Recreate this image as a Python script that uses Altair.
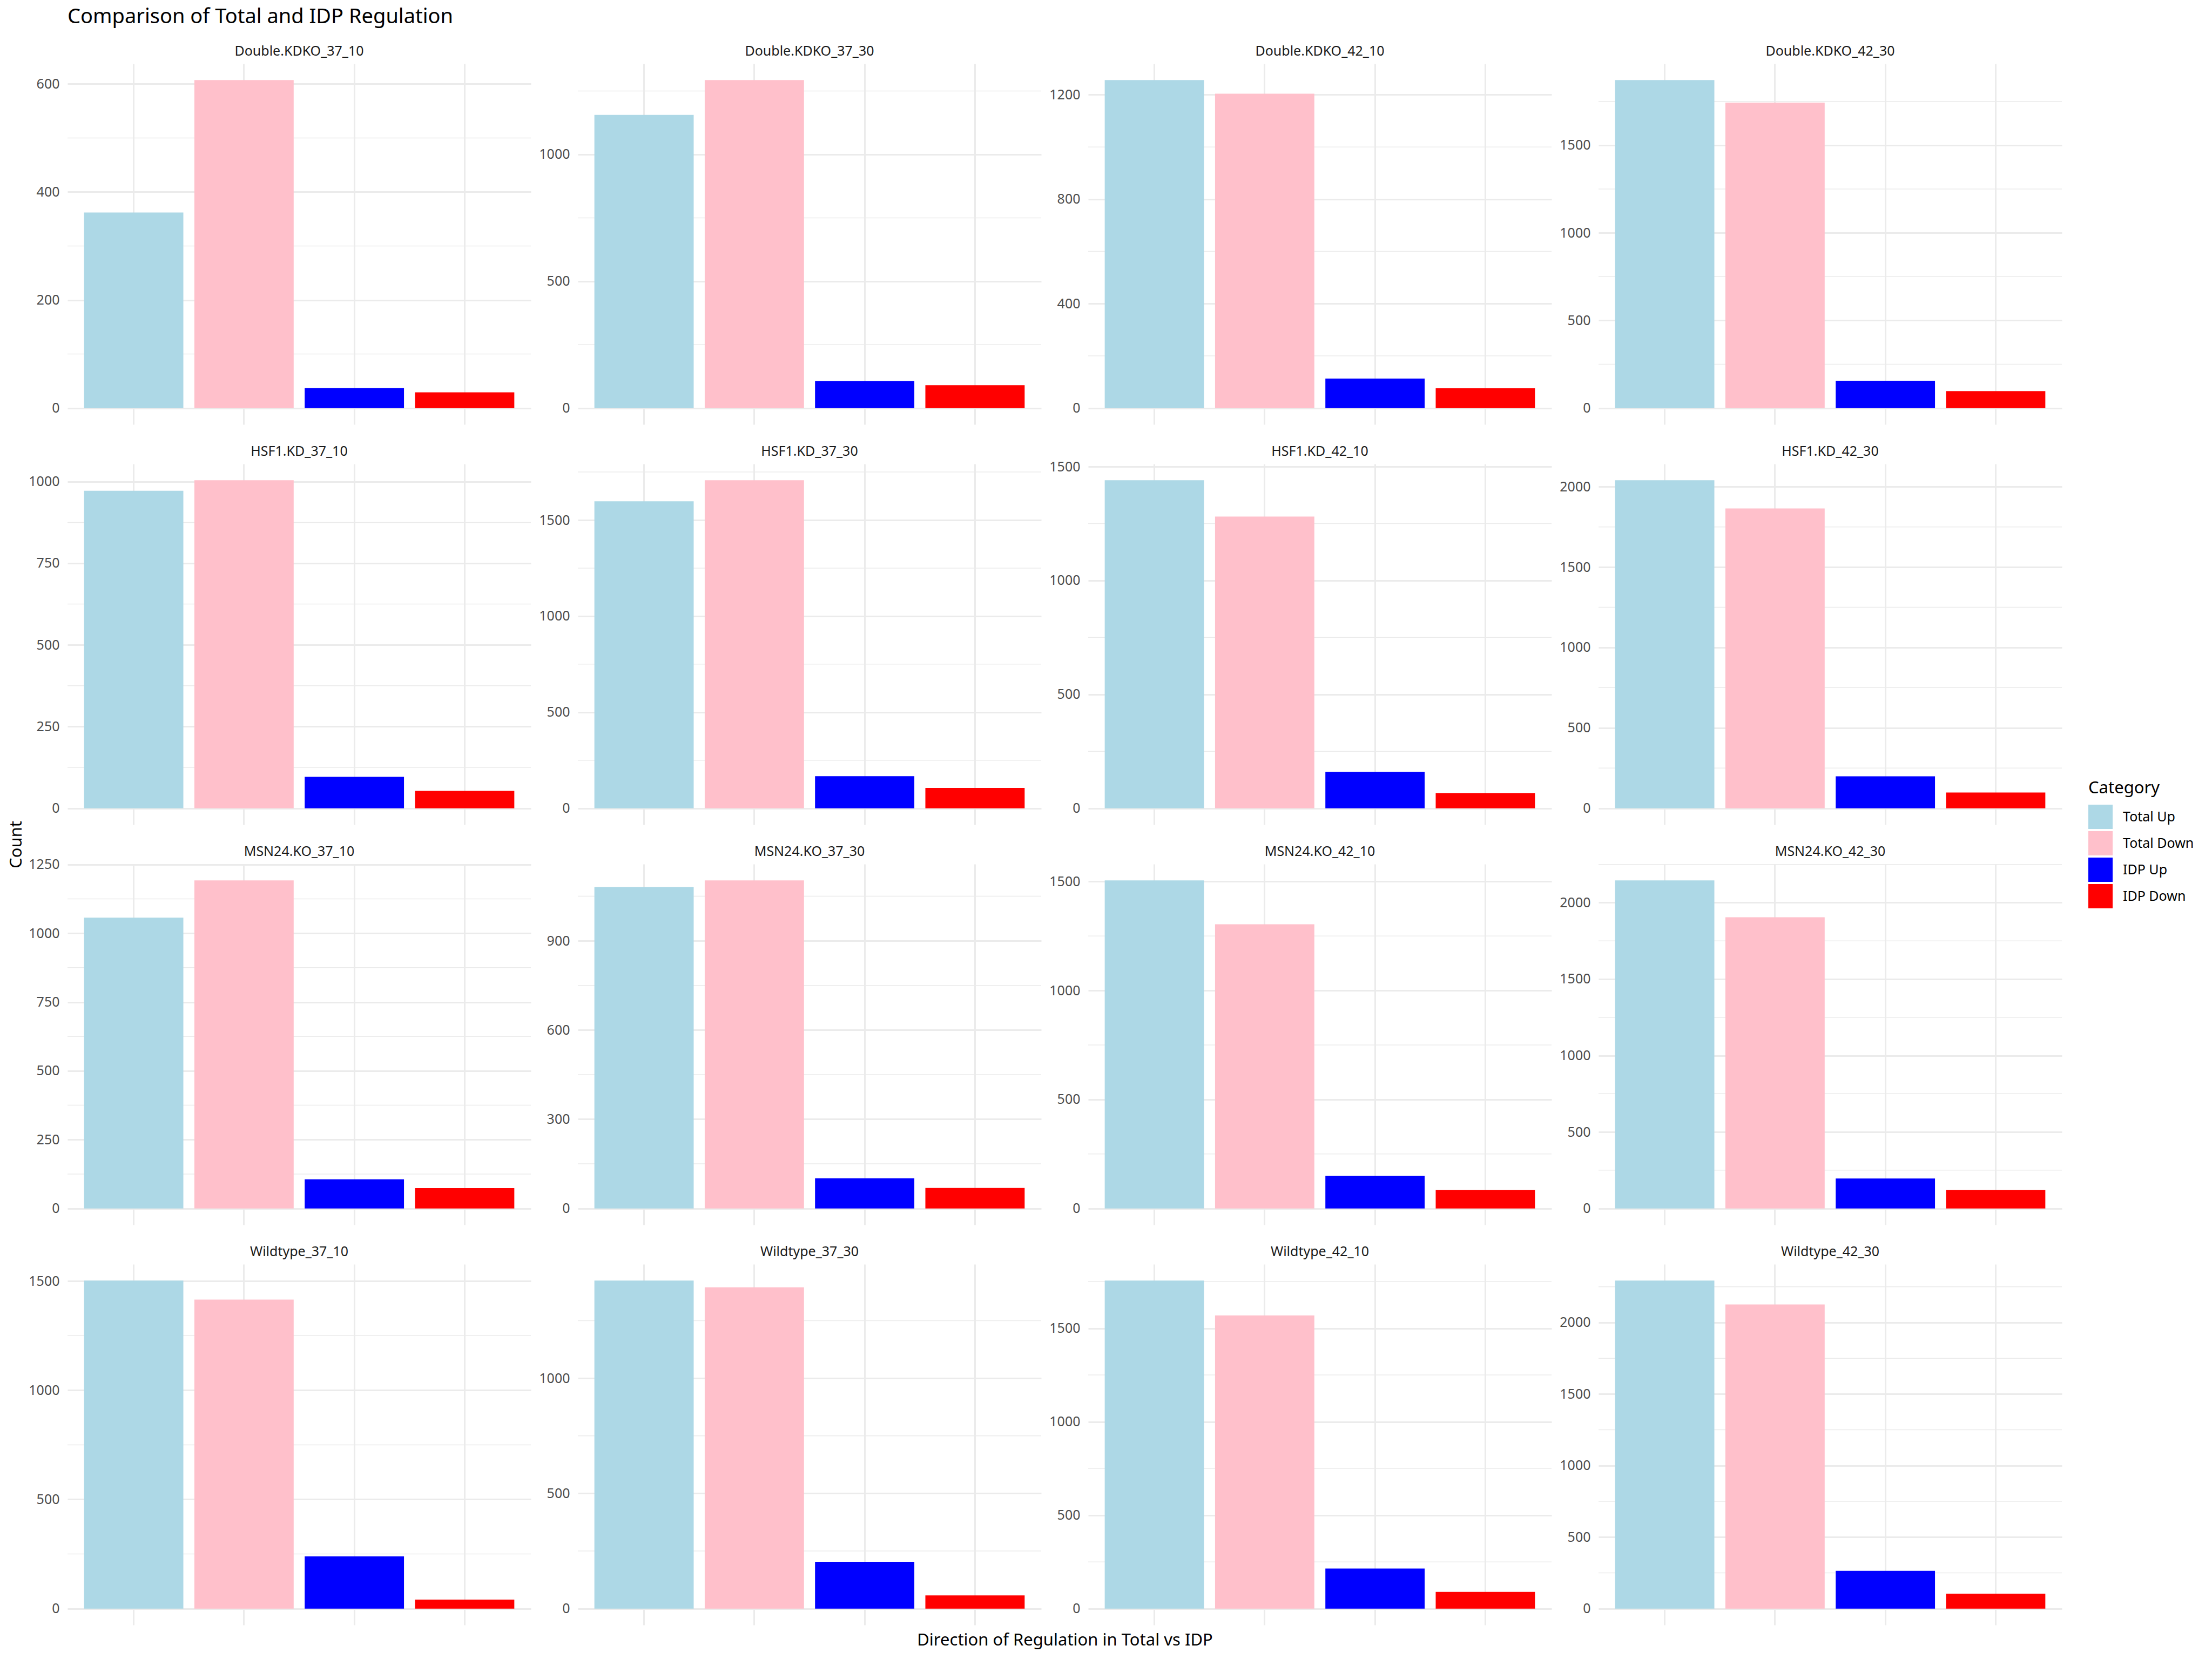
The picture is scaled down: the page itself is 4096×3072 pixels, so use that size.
import altair as alt
import pandas as pd

panels = ["Double.KDKO_37_10", "Double.KDKO_37_30", "Double.KDKO_42_10", "Double.KDKO_42_30",
          "HSF1.KD_37_10", "HSF1.KD_37_30", "HSF1.KD_42_10", "HSF1.KD_42_30",
          "MSN24.KO_37_10", "MSN24.KO_37_30", "MSN24.KO_42_10", "MSN24.KO_42_30",
          "Wildtype_37_10", "Wildtype_37_30", "Wildtype_42_10", "Wildtype_42_30"]
categories = ["Total Up", "Total Down", "IDP Up", "IDP Down"]
colors = ["#ADD8E6", "#FFC0CB", "#0000FF", "#FF0000"]

total_up   = [362, 1156, 1256, 1871, 972, 1598, 1440, 2040, 1057, 1081, 1505, 2145, 1502, 1424, 1755, 2293]
total_down = [607, 1293, 1204, 1743, 1004, 1707, 1281, 1865, 1192, 1103, 1304, 1904, 1415, 1395, 1569, 2126]
idp_up     = [37, 106, 113, 156, 96, 167, 160, 199, 106, 101, 149, 196, 239, 203, 214, 264]
idp_down   = [29, 90, 76, 97, 53, 106, 67, 98, 74, 69, 84, 120, 41, 57, 89, 104]

major_ticks = [
    [0, 200, 400, 600], [0, 500, 1000], [0, 400, 800, 1200], [0, 500, 1000, 1500],
    [0, 250, 500, 750, 1000], [0, 500, 1000, 1500], [0, 500, 1000, 1500], [0, 500, 1000, 1500, 2000],
    [0, 250, 500, 750, 1000, 1250], [0, 300, 600, 900], [0, 500, 1000, 1500], [0, 500, 1000, 1500, 2000],
    [0, 500, 1000, 1500], [0, 500, 1000], [0, 500, 1000, 1500], [0, 500, 1000, 1500, 2000],
]
minor_ticks = [
    [100, 300, 500], [250, 750, 1250], [200, 600, 1000], [250, 750, 1250, 1750],
    [125, 375, 625, 875], [250, 750, 1250, 1750], [250, 750, 1250], [250, 750, 1250, 1750],
    [125, 375, 625, 875, 1125], [150, 450, 750, 1050], [250, 750, 1250], [250, 750, 1250, 1750, 2250],
    [250, 750, 1250], [250, 750, 1250], [250, 750, 1250, 1750], [250, 750, 1250, 1750, 2250],
]

TITLE = "Comparison of Total and IDP Regulation"
X_TITLE = "Direction of Regulation in Total vs IDP"
Y_TITLE = "Count"

FONT = "Noto Sans"
GRID = "#EBEBEB"
PW, PH = 858, 668
COL_GAP, ROW_GAP = 87, 73
EXT = 72
LABEL_SIZE = 25
STRIP_OFFSET = 10
Y_TITLE_PANEL = 4      # left column, second row: its title sits in the gap below it
X_TITLE_PANEL = 13     # bottom row, second column: its title sits centred on the gap to its right


def panel(i):
    vals = [total_up[i], total_down[i], idp_up[i], idp_down[i]]
    df = pd.DataFrame({"Category": categories, "Count": vals})
    m = max(vals)
    lo, hi = -0.05 * m, 1.05 * m
    yscale = alt.Scale(domain=[lo, hi], nice=False, zero=False)
    # keep the strip label at the same height even when the top tick label pokes above the panel
    top_label_px = PH * (hi - max(major_ticks[i])) / (hi - lo)
    protrude = max(0.0, 12.0 - top_label_px)
    strip_offset = STRIP_OFFSET - protrude

    def yaxis():
        if i == Y_TITLE_PANEL:
            extra = dict(title=Y_TITLE, titleX=-86, titleY=PH + ROW_GAP / 2, titleAngle=270,
                         titleAlign="center", titleBaseline="alphabetic", titleFont=FONT,
                         titleFontSize=31, titleFontWeight="normal", titleColor="black")
        else:
            extra = dict(title=None)
        return alt.Axis(values=major_ticks[i], format="d", domain=False, ticks=False,
                        grid=True, gridColor=GRID, gridWidth=3,
                        labelFont=FONT, labelFontSize=LABEL_SIZE, labelColor="#4D4D4D",
                        labelPadding=15, minExtent=EXT, maxExtent=EXT, **extra)

    if i == X_TITLE_PANEL:
        xextra = dict(title=X_TITLE, titleX=PW + COL_GAP / 2, titleY=37, titleAngle=0,
                      titleAlign="center", titleBaseline="alphabetic", titleFont=FONT,
                      titleFontSize=31, titleFontWeight="normal", titleColor="black")
    else:
        xextra = dict(title=None)

    minor = alt.Chart(pd.DataFrame({"v": minor_ticks[i]})).mark_rule(
        color=GRID, strokeWidth=1.5
    ).encode(y=alt.Y("v:Q", scale=yscale, axis=yaxis()))
    bars = alt.Chart(df).mark_bar().encode(
        x=alt.X("Category:N", sort=categories,
                scale=alt.Scale(paddingInner=0.1, paddingOuter=0.15),
                axis=alt.Axis(labels=False, ticks=False, domain=False,
                              grid=True, gridColor=GRID, gridWidth=3, bandPosition=0.5,
                              minExtent=0, maxExtent=0, **xextra)),
        y=alt.Y("Count:Q", scale=yscale, stack=None, axis=yaxis()),
        color=alt.Color("Category:N", sort=categories,
                        scale=alt.Scale(domain=categories, range=colors),
                        legend=alt.Legend(orient="none", legendX=3742, legendY=1327,
                                          title="Category", titleFont=FONT, titleFontSize=31,
                                          titleFontWeight="normal", titleColor="black",
                                          titlePadding=14,
                                          labelFont=FONT, labelFontSize=25, labelColor="black",
                                          labelOffset=19, symbolType="square", symbolSize=2025,
                                          symbolStrokeWidth=0, symbolOpacity=1, rowPadding=4)),
    )
    return alt.layer(minor, bars).properties(
        width=PW, height=PH,
        title=alt.TitleParams(panels[i], font=FONT, fontSize=25, fontWeight="normal",
                              color="#1A1A1A", anchor="middle", offset=strip_offset),
    )


chart = alt.concat(*[panel(i) for i in range(16)], columns=4,
                   spacing={"row": ROW_GAP, "column": COL_GAP}, bounds="flush").properties(
    title=alt.TitleParams(TITLE, anchor="start", frame="group", baseline="bottom", font=FONT,
                          fontSize=38, fontWeight="normal", color="black", offset=-6),
    padding={"left": 13, "top": 12, "right": 10, "bottom": 10},
    background="white",
).configure_view(stroke="transparent")

chart.save("out.html", embed_options={"renderer": "svg", "actions": False})
